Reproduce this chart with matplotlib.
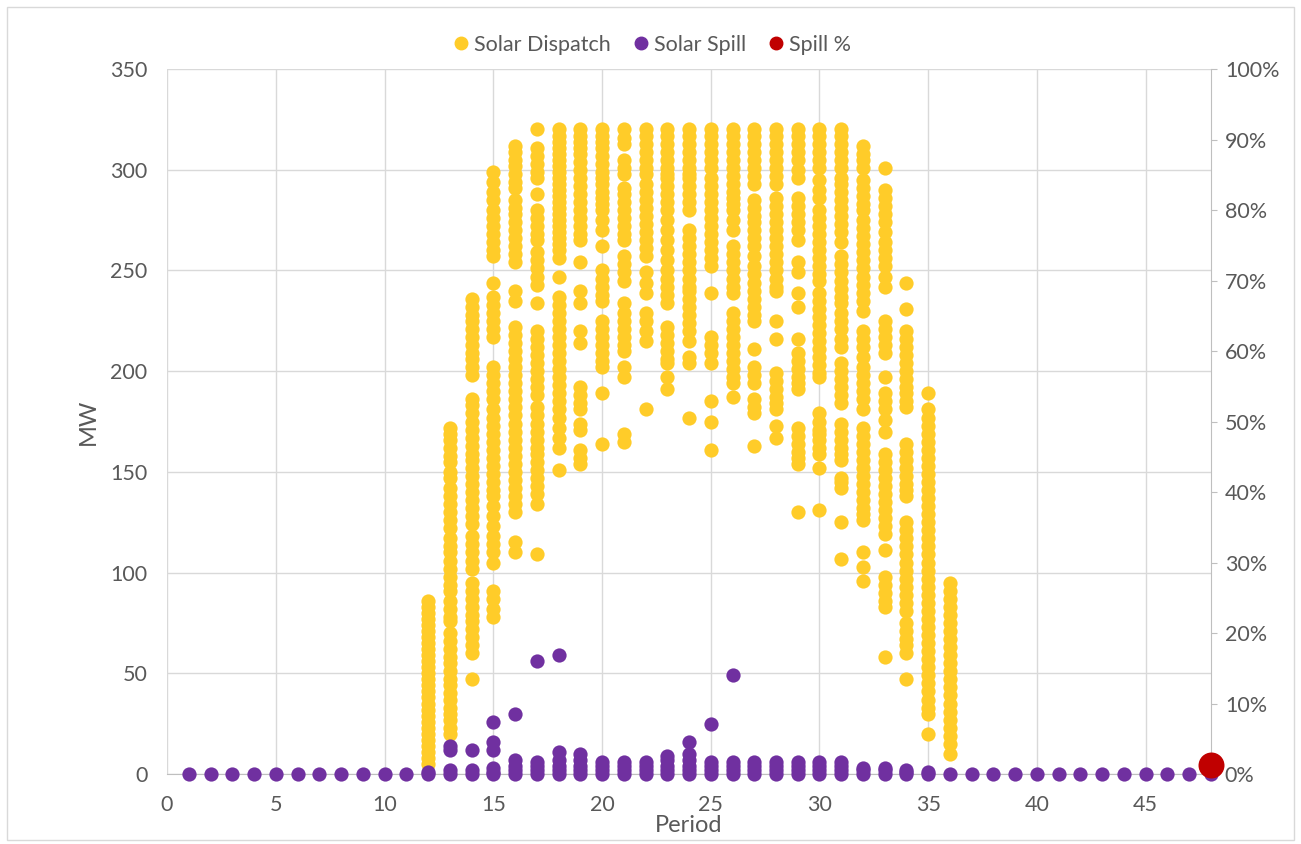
import matplotlib.pyplot as plt
from matplotlib.lines import Line2D
from matplotlib.patches import Rectangle
from matplotlib.ticker import MultipleLocator, PercentFormatter

plt.rcParams['font.family'] = ['Lato', 'DejaVu Sans']

# Solar dispatch (MW), one list per trading period
d12 = [5, 8, 11, 14, 17, 20, 23, 26, 29, 32, 35, 38, 41, 44, 47, 50, 53, 56, 59, 62, 65, 68, 71, 74, 77, 80, 83, 86]
d13 = [172, 169, 166, 162, 158, 155, 150, 147, 142, 138, 134, 130, 126, 122, 117, 113, 110, 106, 102, 98, 94, 91,
       86, 82, 78, 76, 70, 66, 62, 58, 55, 51, 47, 44, 40, 37, 33, 30, 27, 23, 20]
d14 = [236, 232, 228, 225, 221, 217, 213, 209, 206, 202, 198, 186, 183, 179, 175, 171, 167, 163, 159, 156, 152, 148,
       144, 140, 136, 132, 128, 124, 118, 114, 110, 106, 102, 95, 91, 87, 83, 79, 76, 72, 68, 64, 60, 47]
d15 = [299, 294, 289, 285, 280, 276, 272, 268, 264, 260, 257, 244, 237, 233, 229, 225, 221, 217, 202, 198, 194, 190,
       186, 181, 177, 173, 169, 165, 161, 157, 153, 149, 145, 141, 138, 133, 128, 123, 118, 114, 110, 105, 91, 87, 82, 78]
d16 = [312, 309, 305, 302, 298, 294, 291, 285, 281, 278, 274, 270, 266, 262, 258, 254, 240, 235, 222, 218, 214, 210,
       206, 202, 198, 194, 190, 186, 182, 178, 174, 170, 166, 162, 158, 154, 150, 146, 142, 138, 134, 130, 115, 110]
d17 = [320, 311, 307, 303, 299, 296, 288, 280, 276, 272, 268, 265, 259, 255, 251, 247, 243, 234, 220, 216, 212, 208,
       204, 200, 196, 192, 188, 182, 178, 174, 170, 166, 162, 159, 155, 151, 147, 143, 139, 134, 109]
d18 = [320, 317, 314, 311, 308, 305, 302, 299, 296, 293, 290, 287, 284, 281, 278, 275, 272, 269, 266, 263, 260, 256,
       247, 237, 233, 229, 225, 221, 217, 213, 209, 205, 201, 197, 193, 189, 185, 181, 177, 172, 167, 162, 151]
d19 = [320, 317, 314, 311, 308, 304, 300, 296, 292, 288, 284, 280, 276, 272, 268, 265, 254, 240, 234, 220, 214, 192,
       188, 184, 181, 174, 171, 161, 157, 154]
d20 = [320, 317, 314, 311, 307, 303, 299, 296, 293, 289, 286, 283, 280, 275, 270, 262, 250, 246, 242, 238, 235, 225,
       221, 217, 213, 209, 205, 202, 189, 164]
d21 = [320, 316, 313, 305, 301, 298, 291, 288, 284, 280, 276, 272, 268, 265, 257, 253, 249, 245, 234, 229, 225, 221,
       217, 213, 210, 202, 197, 169, 165]
d22 = [320, 317, 313, 309, 305, 301, 298, 293, 289, 285, 281, 277, 273, 269, 265, 261, 257, 249, 244, 239, 229, 225,
       220, 215, 181]
d23 = [320, 317, 313, 309, 305, 301, 298, 296, 292, 288, 284, 280, 275, 270, 265, 260, 255, 250, 246, 242, 238, 234,
       222, 218, 214, 210, 206, 204, 197, 191]
d24 = [320, 317, 313, 309, 305, 301, 298, 296, 292, 288, 284, 280, 270, 266, 262, 258, 254, 250, 246, 242, 240, 236,
       232, 228, 224, 220, 215, 207, 204, 177]
d25 = [320, 317, 313, 309, 305, 301, 296, 292, 288, 284, 280, 276, 272, 268, 264, 260, 256, 252, 239, 217, 213, 209,
       204, 185, 175, 161]
d26 = [320, 317, 313, 309, 305, 301, 297, 293, 289, 286, 283, 280, 275, 270, 262, 258, 254, 250, 246, 242, 239, 229,
       225, 221, 217, 213, 209, 205, 201, 197, 194, 187]
d27 = [320, 317, 313, 309, 305, 301, 297, 293, 285, 281, 277, 274, 270, 266, 262, 257, 252, 248, 244, 240, 236, 232,
       228, 225, 211, 202, 198, 194, 186, 182, 179, 163]
d28 = [320, 317, 313, 309, 305, 301, 297, 293, 286, 282, 278, 274, 270, 266, 262, 258, 254, 250, 246, 242, 240, 225,
       216, 199, 195, 191, 187, 184, 181, 173, 167]
d29 = [320, 317, 313, 309, 305, 300, 296, 286, 282, 278, 274, 270, 265, 254, 249, 239, 232, 216, 209, 205, 201, 197,
       194, 191, 172, 168, 164, 160, 157, 154, 130]
d30 = [320, 317, 313, 309, 305, 301, 295, 290, 286, 280, 276, 272, 268, 264, 260, 256, 252, 248, 245, 239, 235, 231,
       227, 223, 219, 215, 211, 207, 203, 199, 197, 179, 175, 171, 169, 166, 162, 159, 152, 131]
d31 = [320, 317, 313, 309, 305, 301, 296, 293, 289, 285, 281, 277, 273, 269, 264, 257, 253, 249, 245, 241, 237, 234,
       229, 225, 221, 216, 212, 204, 200, 196, 192, 188, 184, 174, 170, 166, 162, 159, 156, 147, 145, 142, 125, 107]
d32 = [312, 308, 305, 301, 295, 291, 287, 283, 280, 275, 271, 267, 263, 259, 255, 251, 247, 243, 239, 235, 230, 220,
       216, 212, 207, 202, 198, 194, 190, 186, 181, 172, 168, 164, 160, 156, 152, 148, 144, 140, 136, 132, 129, 126,
       110, 103, 96]
d33 = [301, 290, 286, 282, 278, 274, 269, 264, 260, 256, 252, 247, 242, 225, 221, 217, 213, 209, 197, 189, 185, 181,
       176, 170, 159, 155, 151, 147, 143, 139, 135, 131, 127, 123, 119, 111, 98, 94, 90, 86, 83, 58]
d34 = [244, 231, 220, 216, 212, 208, 204, 200, 196, 192, 189, 185, 182, 164, 160, 156, 152, 148, 144, 141, 138, 125,
       121, 117, 113, 109, 105, 101, 97, 93, 89, 85, 81, 75, 71, 67, 64, 60, 47]
d35 = [189, 181, 177, 173, 169, 165, 161, 157, 153, 149, 145, 141, 137, 133, 129, 125, 121, 117, 113, 109, 105, 101,
       97, 93, 89, 85, 81, 77, 73, 69, 65, 61, 57, 53, 49, 45, 41, 37, 33, 30, 20]
d36 = [95, 91, 87, 83, 79, 75, 71, 67, 63, 59, 55, 51, 47, 43, 39, 35, 31, 27, 23, 19, 15, 10]

dispatch_periods = list(range(12, 37))
dispatch = [d12, d13, d14, d15, d16, d17, d18, d19, d20, d21, d22, d23, d24,
            d25, d26, d27, d28, d29, d30, d31, d32, d33, d34, d35, d36]

# Solar spill (MW)
s12 = [0, 1]
s13 = [0, 2, 12, 14]
s14 = [0, 2, 12]
s15 = [0, 1, 3, 12, 16, 26]
s16 = [0, 2, 4, 7, 30]
s17 = [0, 2, 4, 6, 56]
s18 = [0, 2, 4, 7, 11, 59]
s19 = [0, 2, 4, 7, 10]
s20 = [0, 2, 4, 6]
s21 = [0, 2, 4, 6]
s22 = [0, 2, 4, 6]
s23 = [0, 2, 4, 7, 9]
s24 = [0, 2, 4, 7, 10, 16]
s25 = [0, 2, 4, 6, 25]
s26 = [0, 2, 4, 6, 49]
s27 = [0, 2, 4, 6]
s28 = [0, 2, 4, 6]
s29 = [0, 2, 4, 6]
s30 = [0, 2, 4, 6]
s31 = [0, 2, 4, 6]
s32 = [0, 2, 3]
s33 = [0, 2, 3]
s34 = [0, 1, 2]
s35 = [0, 1]

spill_periods = list(range(12, 36))
spill = [s12, s13, s14, s15, s16, s17, s18, s19, s20, s21, s22, s23,
         s24, s25, s26, s27, s28, s29, s30, s31, s32, s33, s34, s35]
zero_spill_periods = list(range(1, 12)) + list(range(36, 49))

# Spill % (secondary axis)
spill_pct_period = [48]
spill_pct = [0.013]

YELLOW = '#FFCC29'
PURPLE = '#7030A0'
RED = '#C00000'
GREY = '#595959'

fig = plt.figure(figsize=(13.01, 8.44), dpi=100)
ax = fig.add_axes([0.1284, 0.0829, 0.8024, 0.8353])

dx, dy = [], []
for p, vals in zip(dispatch_periods, dispatch):
    dx += [p] * len(vals)
    dy += vals
ax.scatter(dx, dy, s=105, color=YELLOW, linewidths=0, zorder=3, clip_on=False)

sx, sy = [], []
for p in zero_spill_periods:
    sx.append(p)
    sy.append(0)
for p, vals in zip(spill_periods, spill):
    sx += [p] * len(vals)
    sy += vals
ax.scatter(sx, sy, s=105, color=PURPLE, linewidths=0, zorder=4, clip_on=False)

ax.set_xlim(0, 48)
ax.set_ylim(0, 350)
ax.xaxis.set_major_locator(MultipleLocator(5))
ax.yaxis.set_major_locator(MultipleLocator(50))
ax.grid(True, color='#D9D9D9', lw=1.0, zorder=0)
ax.set_axisbelow(True)
for side in ['left', 'top', 'right']:
    ax.spines[side].set_visible(False)
ax.spines['bottom'].set_color('#BFBFBF')
ax.tick_params(length=0, labelsize=15.5, colors=GREY)
ax.tick_params(axis='x', pad=15)
ax.tick_params(axis='y', pad=14)
ax.set_xlabel('Period', fontsize=17, color=GREY, labelpad=0)
ax.set_ylabel('MW', fontsize=17, color=GREY, labelpad=8)

ax2 = ax.twinx()
ax2.scatter(spill_pct_period, spill_pct, s=350, color=RED, linewidths=0, zorder=5, clip_on=False)
ax2.set_ylim(0, 1)
ax2.yaxis.set_major_locator(MultipleLocator(0.1))
ax2.yaxis.set_major_formatter(PercentFormatter(1.0, decimals=0))
for side in ['left', 'top', 'bottom']:
    ax2.spines[side].set_visible(False)
ax2.spines['right'].set_color('#BFBFBF')
ax2.tick_params(axis='y', length=4, color='#BFBFBF', labelsize=15.5, labelcolor=GREY, pad=6)

handles = [Line2D([], [], marker='o', ls='', color=c, markersize=9) for c in (YELLOW, PURPLE, RED)]
fig.legend(handles, ['Solar Dispatch', 'Solar Spill', 'Spill %'], loc='center',
           bbox_to_anchor=(0.5, 1 - 45 / 844), ncol=3, frameon=False, fontsize=15.5,
           handlelength=1.0, handletextpad=0.1, columnspacing=0.9, labelcolor=GREY)

fig.add_artist(Rectangle((7 / 1301, 4 / 844), 1287 / 1301, 833 / 844, transform=fig.transFigure,
                         fill=False, ec='#D9D9D9', lw=1))

fig.savefig('out.png', dpi=100)
